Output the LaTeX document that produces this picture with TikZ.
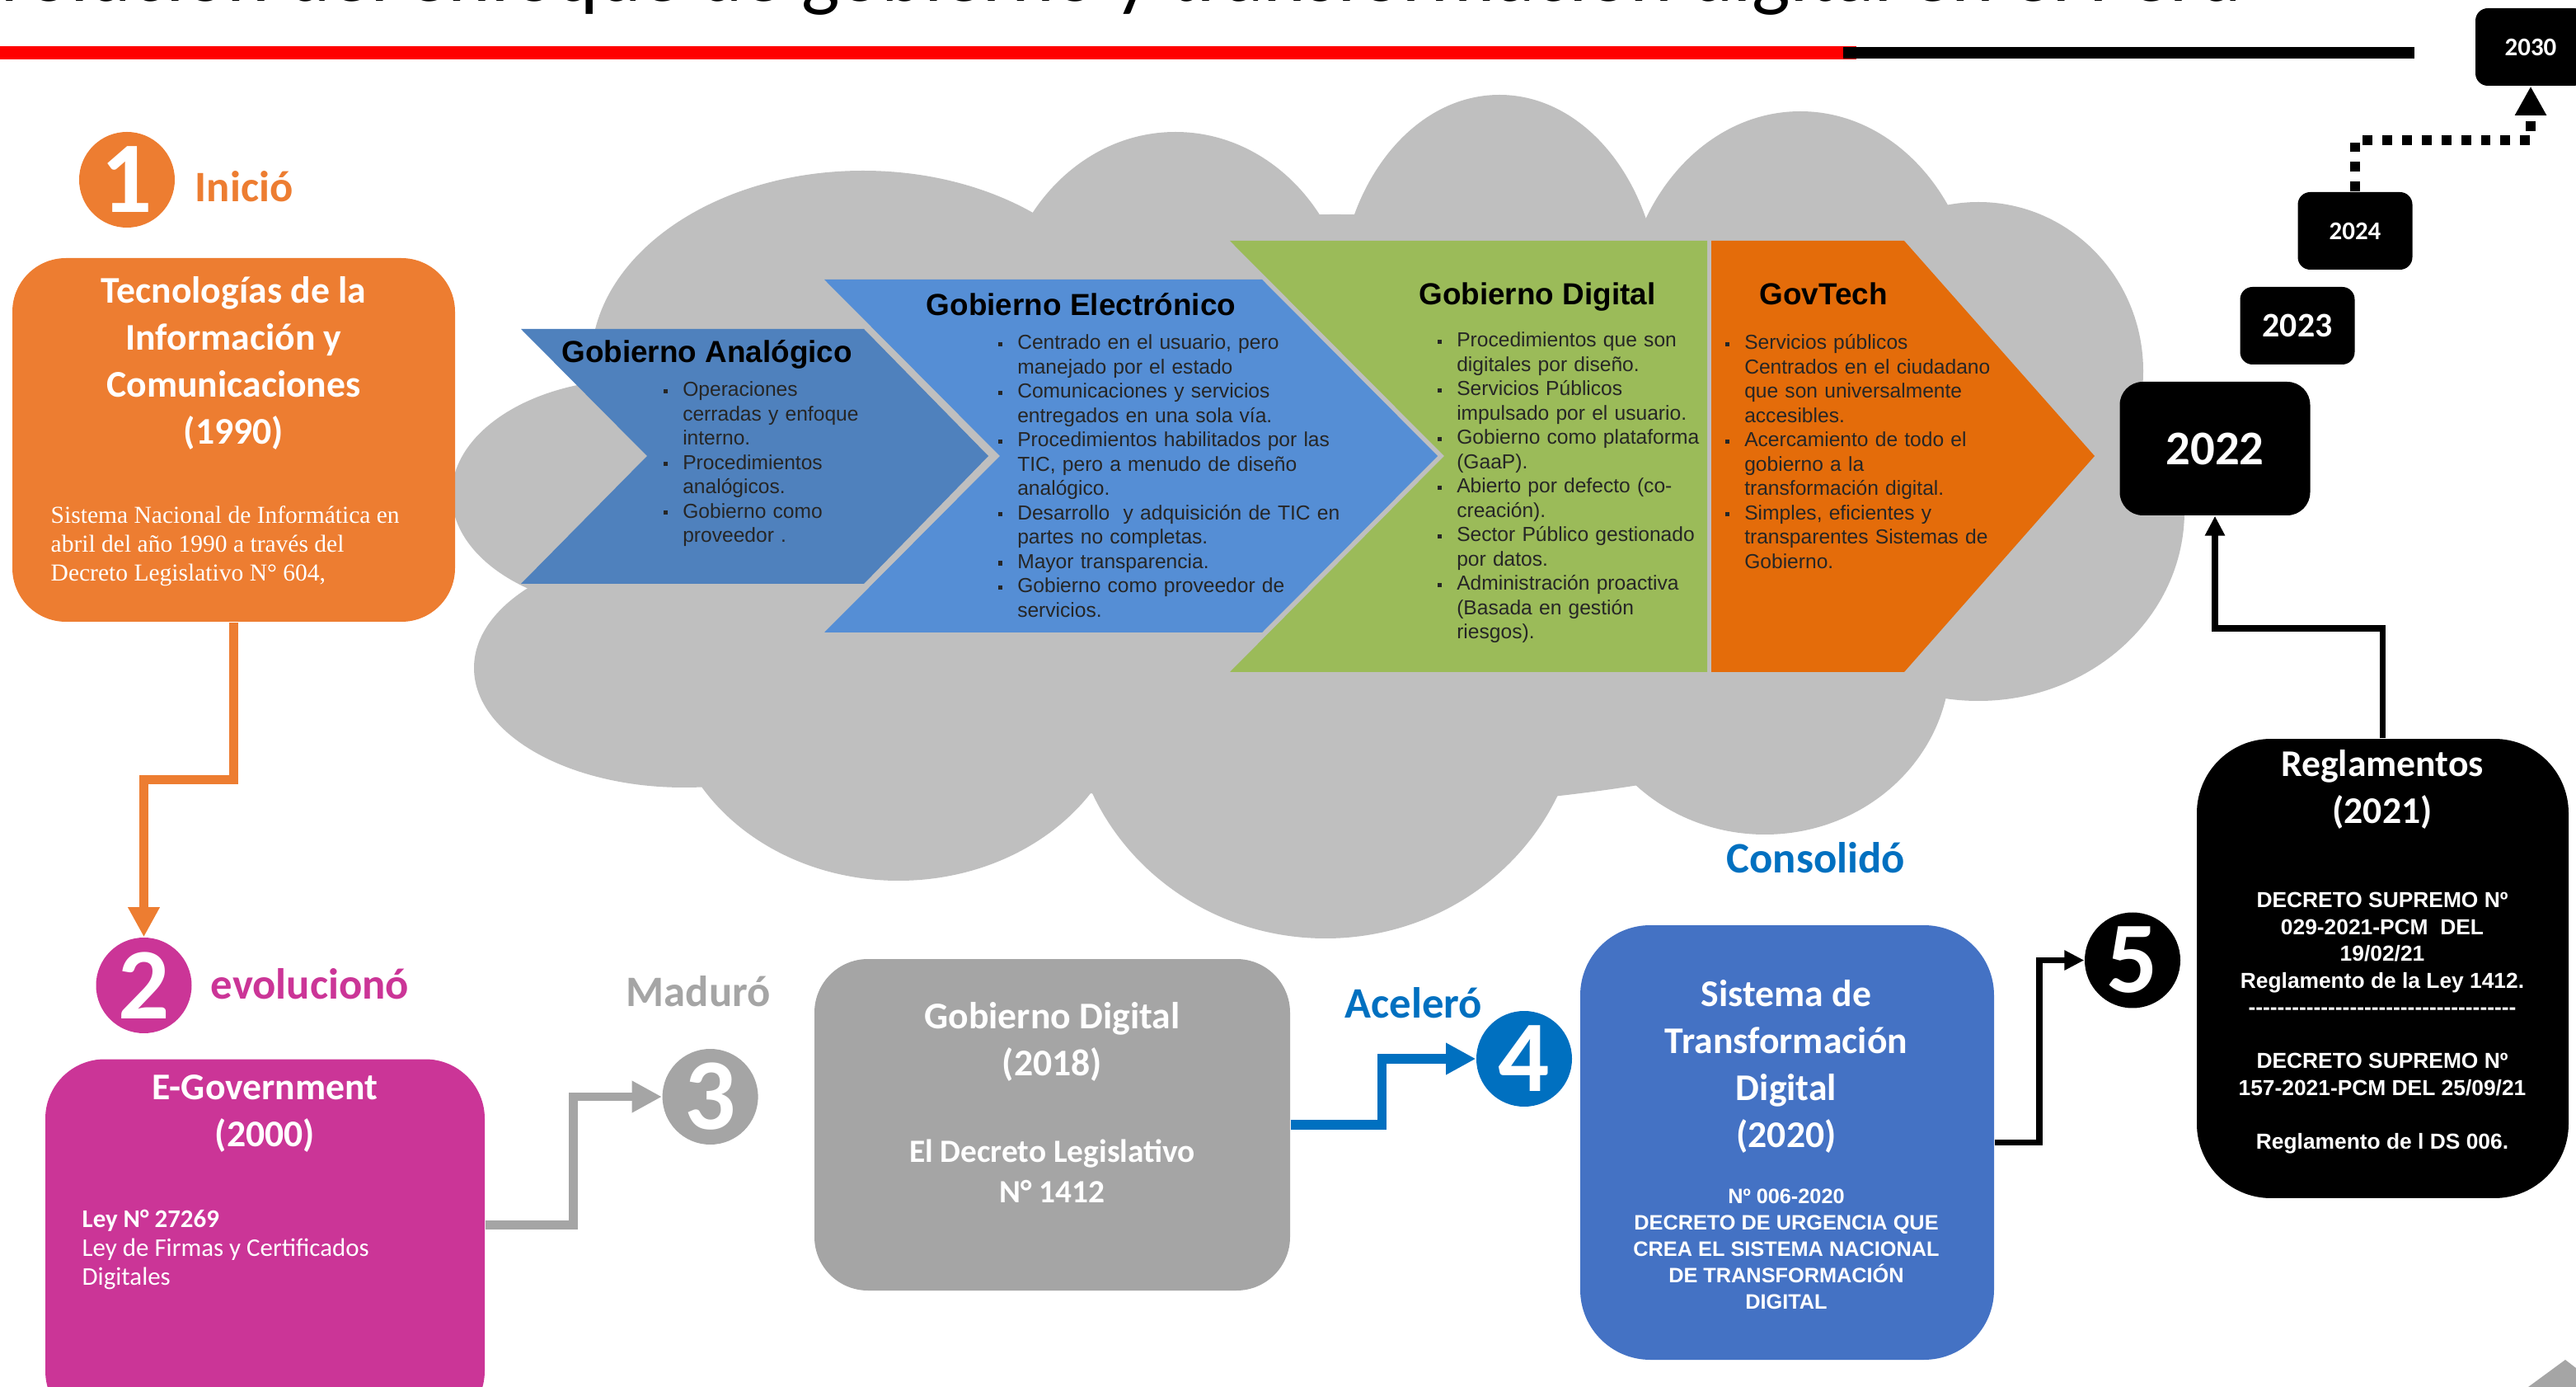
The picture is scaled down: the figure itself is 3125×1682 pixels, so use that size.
\documentclass[tikz,border=0pt]{standalone}
\usepackage{fontspec}
\setmainfont{Carlito}
\newfontfamily\arialfont{Liberation Sans}
\newfontfamily\timesfont{Liberation Serif}
\usetikzlibrary{arrows.meta,calc}
\definecolor{StageOrange}{HTML}{ED7D31}
\definecolor{StageMagenta}{HTML}{CB3597}
\definecolor{StageGray}{HTML}{A5A5A5}
\definecolor{StageBlue}{HTML}{0070C0}
\definecolor{StageBlueBox}{HTML}{4472C4}
\definecolor{CloudGray}{HTML}{BFBFBF}
\definecolor{ChevAnalog}{HTML}{4F81BD}
\definecolor{ChevElec}{HTML}{558ED5}
\definecolor{ChevDigital}{HTML}{9BBB59}
\definecolor{ChevGovTech}{HTML}{E46C0A}
\definecolor{ChevText}{HTML}{262626}

\newcommand\fb{\rule{0pt}{12pt}}
\newcommand\sqbullet{\raisebox{1.1pt}{\rule{1.5pt}{1.5pt}}}
\newcommand\bfirst[1]{\hangindent=6.7pt\hangafter=1\noindent\makebox[6.7pt][l]{\fb\sqbullet}#1}
\newcommand\bitem[1]{\par\hangindent=6.7pt\hangafter=1\noindent\makebox[6.7pt][l]{\sqbullet}#1}
\newcount\dashk
\newcommand\dashrow{\dashk=0 \loop-\kern0pt\advance\dashk by 1 \ifnum\dashk<37 \repeat}

\tikzset{
  chevtitle/.style={anchor=base, inner sep=0pt, font=\arialfont\bfseries\fontsize{10.5}{12}\selectfont},
  chevlist/.style={anchor=north west, inner sep=0pt, yshift=12pt, text width=80mm, text=ChevText, font=\arialfont\fontsize{7}{8.4}\selectfont},
  stagebox/.style={inner sep=0pt, rounded corners=6.5mm},
  stagetitle/.style={anchor=north, inner sep=0pt, yshift=12pt, align=center, text=white, font=\bfseries\fontsize{13}{16.2}\selectfont},
  bodytext/.style={anchor=north west, inner sep=0pt, yshift=12pt, align=left, text=white},
  numcirc/.style={circle, minimum size=11.6mm, inner sep=0pt, text=white, font=\bfseries\fontsize{35}{35}\selectfont},
  verb/.style={anchor=base west, inner sep=0pt, font=\bfseries\fontsize{15}{18}\selectfont},
  yearbox/.style={fill=black, inner sep=0pt, rounded corners=1.5mm, text=white},
  flow/.style={line width=3.1pt, -{Triangle[width=10.3pt,length=10.3pt]}},
  thinflow/.style={line width=2.2pt, -{Triangle[width=6.5pt,length=6.8pt]}},
}

\begin{document}
\begin{tikzpicture}[x=0.1mm, y=-0.1mm]
  \useasboundingbox (0,0) rectangle (3125,1682);
  \clip (0,0) rectangle (3125,1682);

  % Heading and rule
  \node[anchor=base east, inner sep=0pt, font=\fontsize{28}{30}\selectfont] (heading) at (2720,2) {Evolución del enfoque de gobierno y transformación digital en el Perú};
  \fill[red] (0,56) rectangle (2252,72.5);
  \fill[black] (2236,57) rectangle (2929,71.5);

  % Cloud
  \foreach \cx/\cy/\rx/\ry in {1047/440/330/233, 770/600/222/140, 830/810/255/145, 1090/830/280/238, 1608/840/310/298, 2141/800/225/212, 2400/620/250/230, 2400/450/200/205, 2184/390/215/255, 1819/370/195/255, 1426/400/215/240, 1620/620/950/360}
    \fill[CloudGray] (\cx,\cy) ellipse [x radius=\rx, y radius=\ry];

  % Chevrons
  \fill[ChevAnalog] (632,399) -- (1048,399) -- (1199,553) -- (1048,708) -- (632,708) -- (785,553) -- cycle;
  \fill[ChevElec] (1000,339) -- (1531,339) -- (1744,553) -- (1531,767) -- (1000,767) -- (1213,553) -- cycle;
  \fill[ChevDigital] (1492,292) -- (2071,292) -- (2071,815) -- (1492,815) -- (1752,553) -- cycle;
  \fill[ChevGovTech] (2076,292) -- (2310,292) -- (2541,553) -- (2310,815) -- (2076,815) -- cycle;

  \node[chevtitle] (analog) at (857.6,440) {Gobierno Analógico};
  \node[chevlist] (analoglist) at (804,480) {\bfirst{Operaciones\newline cerradas y enfoque\newline interno.}\bitem{Procedimientos\newline analógicos.}\bitem{Gobierno como\newline proveedor .}\par};

  \node[chevtitle] (elec) at (1311.5,383) {Gobierno Electrónico};
  \node[chevlist] (eleclist) at (1210,423) {\bfirst{Centrado en el usuario, pero\newline manejado por el estado}\bitem{Comunicaciones y servicios\newline entregados en una sola vía.}\bitem{Procedimientos habilitados por las\newline TIC, pero a menudo de diseño\newline analógico.}\bitem{Desarrollo~ y adquisición de TIC en\newline partes no completas.}\bitem{Mayor transparencia.}\bitem{Gobierno como proveedor de\newline servicios.}\par};

  \node[chevtitle] (digital) at (1864.8,370) {Gobierno Digital};
  \node[chevlist] (digitallist) at (1743,420) {\bfirst{Procedimientos que son\newline digitales por diseño.}\bitem{Servicios Públicos\newline impulsado por el usuario.}\bitem{Gobierno como plataforma\newline (GaaP).}\bitem{Abierto por defecto (co-\newline creación).}\bitem{Sector Público gestionado\newline por datos.}\bitem{Administración proactiva\newline (Basada en gestión\newline riesgos).}\par};

  \node[chevtitle] (govtech) at (2212,370) {GovTech};
  \node[chevlist] (govtechlist) at (2092,423) {\bfirst{Servicios públicos\newline Centrados en el ciudadano\newline que son universalmente\newline accesibles.}\bitem{Acercamiento de todo el\newline gobierno a la\newline transformación digital.}\bitem{Simples, eficientes y\newline transparentes Sistemas de\newline Gobierno.}\par};

  % Stage 1
  \node[numcirc, fill=StageOrange] (circ1) at (154,218) {1};
  \node[verb, text=StageOrange] (inicio) at (236,245) {Inició};
  \node[stagebox, fill=StageOrange, minimum width=53.7mm, minimum height=44.1mm] (tic) at (283.5,533.5) {};
  \node[stagetitle] (tictitle) at (283.5,366.5) {\fb Tecnologías de la\\Información y\\Comunicaciones\\(1990)};
  \node[bodytext, font=\timesfont\fontsize{8.4}{10}\selectfont] (ticbody) at (61,634) {\fb Sistema Nacional de Informática en\\abril del año 1990 a través del\\Decreto Legislativo N° 604,};

  % Stage 2
  \node[numcirc, fill=StageMagenta] (circ2) at (174.5,1195) {2};
  \node[verb, text=StageMagenta] (evoluciono) at (255,1211) {evolucionó};
  \node[stagebox, fill=StageMagenta, minimum width=53.3mm, minimum height=45mm, rounded corners=7.2mm] (egov) at (321.5,1509.5) {};
  \node[stagetitle] (egovtitle) at (321.5,1333) {\fb E-Government\\(2000)};
  \node[bodytext, font=\fontsize{8.8}{10}\selectfont] (egovbody) at (99,1488) {\fb\textbf{Ley N° 27269}\\Ley de Firmas y Certificados\\Digitales};

  % Stage 3
  \node[verb, text=StageGray] (maduro) at (759,1221) {Maduró};
  \node[numcirc, fill=StageGray] (circ3) at (861.6,1330) {3};
  \node[stagebox, fill=StageGray, minimum width=57.7mm, minimum height=40.2mm] (gd) at (1276.5,1364) {};
  \node[stagetitle] (gdtitle) at (1276.5,1246.6) {\fb Gobierno Digital\\(2018)};
  \node[stagetitle, font=\bfseries\fontsize{11.2}{14}\selectfont] (gdbody) at (1276.5,1408.8) {\fb El Decreto Legislativo\\N° 1412};

  % Stage 4
  \node[verb, text=StageBlue] (acelero) at (1631,1234) {Aceleró};
  \node[numcirc, fill=StageBlue] (circ4) at (1849,1284) {4};
  \node[stagebox, fill=StageBlueBox, minimum width=50.2mm, minimum height=52.7mm, rounded corners=8.5mm] (std) at (2168,1385.5) {};
  \node[stagetitle] (stdtitle) at (2167,1219.7) {\fb Sistema de\\Transformación\\Digital\\(2020)};
  \node[stagetitle, font=\arialfont\bfseries\fontsize{7.2}{9.1}\selectfont] (stdbody) at (2167,1459) {\fb Nº 006-2020\\DECRETO DE URGENCIA QUE\\CREA EL SISTEMA NACIONAL\\DE TRANSFORMACIÓN\\DIGITAL};

  % Stage 5
  \node[verb, text=StageBlue] (consolido) at (2094,1059) {Consolidó};
  \node[numcirc, fill=black] (circ5) at (2587,1164.5) {5};
  \node[stagebox, fill=black, minimum width=45.1mm, minimum height=55.7mm, rounded corners=9mm] (regl) at (2890.5,1174.5) {};
  \node[stagetitle] (regltitle) at (2890,940.6) {\fb Reglamentos\\(2021)};
  \node[stagetitle, font=\arialfont\bfseries\fontsize{7.5}{9.25}\selectfont] (reglbody) at (2890,1100) {\fb DECRETO SUPREMO Nº\\029-2021-PCM~ DEL\\19/02/21\\Reglamento de la Ley 1412.\\\dashrow\\[9.25pt]DECRETO SUPREMO Nº\\157-2021-PCM DEL 25/09/21\\[9.25pt]Reglamento de l DS 006.};

  % Years
  \node[yearbox, minimum width=23.1mm, minimum height=16.2mm, rounded corners=2.8mm, font=\bfseries\fontsize{16.7}{18}\selectfont] (y2022) at (2687,544) {2022};
  \node[yearbox, minimum width=13.9mm, minimum height=9.4mm, font=\bfseries\fontsize{11.9}{13}\selectfont] (y2023) at (2787,395) {2023};
  \node[yearbox, minimum width=13.9mm, minimum height=9.4mm, font=\bfseries\fontsize{8.8}{10}\selectfont] (y2024) at (2857,280) {2024};
  \node[yearbox, minimum width=13.4mm, minimum height=9.4mm, font=\bfseries\fontsize{8.8}{10}\selectfont] (y2030) at (3070,57) {2030};

  % Connectors
  \draw[flow, StageOrange] (tic.south) |- ($(circ2.north)+(0,-191)$) -- (circ2.north);
  \draw[flow, StageGray] ($(egov.north east)+(0,202)$) -| ($(circ3.west)+(-107,0)$) -- (circ3.west);
  \draw[flow, StageBlue, line width=3.3pt] (gd.east) -| ($(circ4.west)+(-114,0)$) -- (circ4.west);
  \draw[thinflow] (std.east) -| ($(circ5.west)+(-54,0)$) -- (circ5.west);
  \draw[thinflow] (regl.north) |- ($(y2022.south)+(0,136)$) -- (y2022.south);
  \draw[line width=3.4pt, dash pattern=on 3.4pt off 3.4pt, -{Triangle[width=10.2pt,length=10pt]}] (y2024.north) |- ($(y2030.south)+(0,65)$) -- (y2030.south);

  % Corner mark
  \fill[StageGray] (3067,1682) -- (3112,1649) -- (3125,1659) -- (3125,1682) -- cycle;
\end{tikzpicture}
\end{document}
